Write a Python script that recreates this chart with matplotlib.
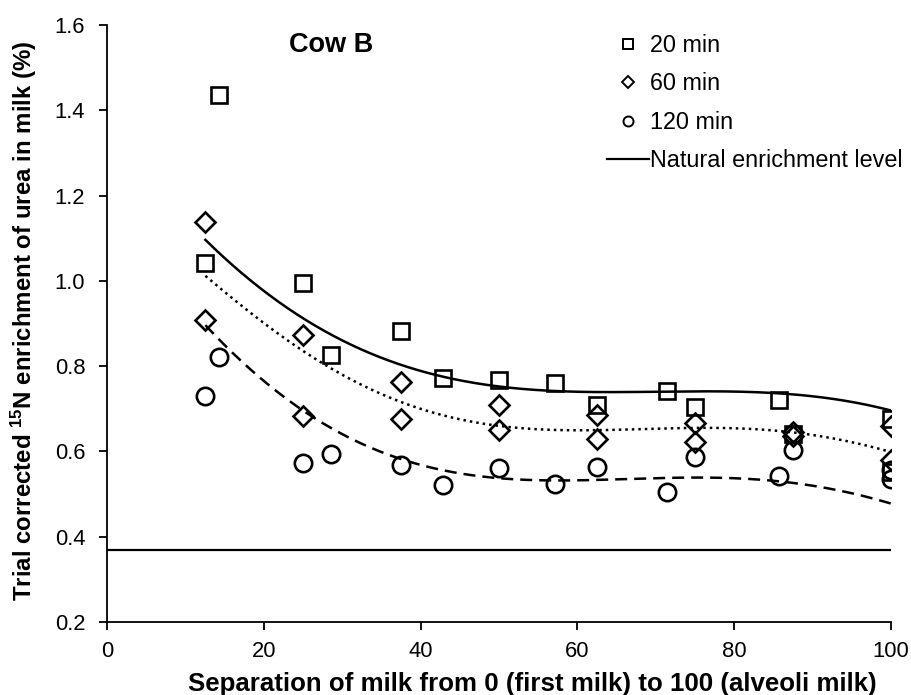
import numpy as np
import matplotlib
matplotlib.use("Agg")
import matplotlib.pyplot as plt
from matplotlib.lines import Line2D

plt.rcParams['font.family'] = ['Liberation Sans', 'DejaVu Sans']
plt.rcParams['mathtext.fontset'] = 'custom'
plt.rcParams['mathtext.rm'] = 'Liberation Sans:bold'
plt.rcParams['mathtext.bf'] = 'Liberation Sans:bold'
plt.rcParams['mathtext.default'] = 'bf'

x20 = [12.5, 14.3, 25, 28.6, 37.5, 42.9, 50, 57.1, 62.5, 71.4, 75, 85.7, 87.5, 100, 100]
y20 = [1.042, 1.435, 0.994, 0.826, 0.882, 0.773, 0.767, 0.760, 0.708, 0.742, 0.705, 0.720, 0.640, 0.676, 0.552]

x60 = [12.5, 12.5, 25, 25, 37.5, 37.5, 50, 50, 62.5, 62.5, 75, 75, 87.5, 87.5, 100, 100]
y60 = [1.137, 0.908, 0.874, 0.684, 0.763, 0.676, 0.709, 0.650, 0.685, 0.628, 0.666, 0.621, 0.645, 0.636, 0.660, 0.580]

x120 = [12.5, 14.3, 25, 28.6, 37.5, 42.9, 50, 57.1, 62.5, 71.4, 75, 85.7, 87.5, 100, 100]
y120 = [0.731, 0.821, 0.574, 0.594, 0.568, 0.521, 0.560, 0.523, 0.564, 0.506, 0.586, 0.542, 0.603, 0.557, 0.535]

# ---- trend lines ----
trend20_x = [12.5, 20.8, 25, 37.5, 42.9, 50, 57.1, 62.5, 71.4, 82, 85.7, 92.7, 100]
trend20_y = [1.098, 0.955, 0.921, 0.803, 0.775, 0.750, 0.742, 0.739, 0.741, 0.741, 0.736, 0.721, 0.697]

trend60_x = [12.5, 15.7, 21.2, 28.9, 37.5, 43.7, 50, 57.1, 71.4, 82, 87.5, 92.7, 100]
trend60_y = [1.018, 0.955, 0.877, 0.807, 0.710, 0.678, 0.658, 0.653, 0.654, 0.654, 0.646, 0.627, 0.600]

trend120_x = [12.5, 16.9, 22.9, 26.3, 33.1, 37.5, 43.7, 50, 57.1, 67.1, 75.7, 84.2, 92.7, 100]
trend120_y = [0.893, 0.822, 0.721, 0.674, 0.619, 0.578, 0.552, 0.541, 0.531, 0.535, 0.537, 0.535, 0.510, 0.478]

natural_level = 0.369
series_labels = ['20 min', '60 min', '120 min', 'Natural enrichment level']
xticks = [0, 20, 40, 60, 80, 100]
yticks = [0.2, 0.4, 0.6, 0.8, 1.0, 1.2, 1.4, 1.6]

fig = plt.figure(figsize=(9.12, 6.95), dpi=100)
ax = fig.add_axes([107.5/912, 1-622/695, (890.7-107.5)/912, (622-25)/695])

ax.axhline(natural_level, xmin=0, xmax=1, color='black', lw=1.6, zorder=2)

mk = dict(linestyle='none', markerfacecolor='none', markeredgecolor='black', markeredgewidth=1.9, zorder=3)
ax.plot(x20, y20, marker='s', markersize=12.2, **mk)
ax.plot(x60, y60, marker='D', markersize=10.0, **mk)
ax.plot(x120, y120, marker='o', markersize=12.5, **mk)

xs = np.linspace(12.5, 100, 300)
for tx, ty, ls in [(trend20_x, trend20_y, '-'),
                   (trend60_x, trend60_y, (0, (1, 1.6))),
                   (trend120_x, trend120_y, (0, (4.8, 2.8)))]:
    c = np.polyfit(tx, ty, 5)
    ax.plot(xs, np.polyval(c, xs), color='black', lw=1.8, linestyle=ls, zorder=2)

ax.set_xlim(0, 100)
ax.set_ylim(0.2, 1.6)
ax.set_xticks(xticks)
ax.set_yticks(yticks)
ax.set_yticklabels([f"{v:.1f}" for v in yticks])
ax.spines['top'].set_visible(False)
ax.spines['right'].set_visible(False)
ax.spines['left'].set_linewidth(1.3)
ax.spines['bottom'].set_linewidth(1.3)
ax.tick_params(axis='both', direction='out', length=5.5, width=1.3, labelsize=15.8)
ax.tick_params(axis='y', pad=10.5)
ax.tick_params(axis='x', pad=8)

ax.set_xlabel('Separation of milk from 0 (first milk) to 100 (alveoli milk)', fontsize=18.6, fontweight='bold')
ax.xaxis.set_label_coords(0.542, -0.084)
ax.set_ylabel(r'Trial corrected $^{15}$N enrichment of urea in milk (%)', fontsize=17.3, fontweight='bold')
ax.yaxis.set_label_coords(-0.088, 0.505)

ax.text(28.5, 1.554, 'Cow B', fontsize=19.5, fontweight='bold', ha='center', va='center')

handles = [
    Line2D([], [], linestyle='none', marker='s', markersize=7.5, markerfacecolor='none', markeredgecolor='black', markeredgewidth=1.4),
    Line2D([], [], linestyle='none', marker='D', markersize=6.4, markerfacecolor='none', markeredgecolor='black', markeredgewidth=1.4),
    Line2D([], [], linestyle='none', marker='o', markersize=7.2, markerfacecolor='none', markeredgecolor='black', markeredgewidth=1.4),
    Line2D([], [], color='black', lw=1.6),
]
fig.legend(handles, series_labels, loc='upper left', bbox_to_anchor=(607/912, 1-34/695),
           frameon=False, fontsize=16.8, handlelength=1.8, handletextpad=0.05,
           labelspacing=0.66, borderpad=0, borderaxespad=0)

fig.savefig('out.png', dpi=100)
